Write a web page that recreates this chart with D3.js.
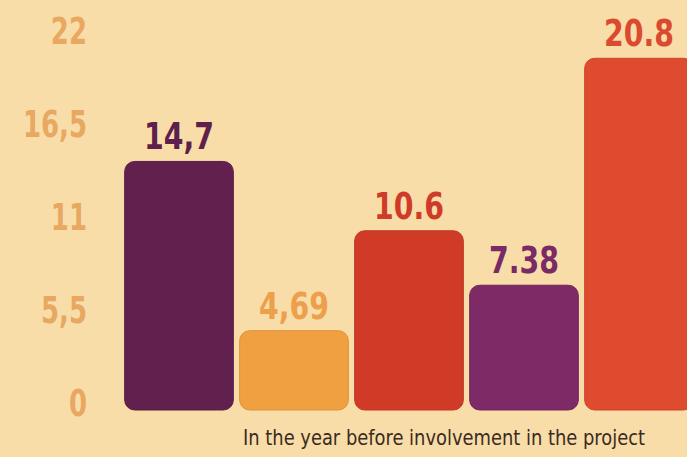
<!DOCTYPE html>
<html>
<head>
<meta charset="utf-8">
<script src="https://cdn.jsdelivr.net/npm/d3@7"></script>
<style>
  html, body { margin: 0; padding: 0; background: #f8dda9; }
  svg { display: block; }
  .tick text { font-family: "DejaVu Sans Condensed", "Liberation Sans Narrow", sans-serif; font-weight: bold; }
</style>
</head>
<body>
<svg id="chart" width="687" height="457"></svg>
<script>
var categories = ['A', 'B', 'C', 'D', 'E'];
var values = [14.7, 4.69, 10.6, 7.38, 20.8];
var valueLabels = ['14,7', '4,69', '10.6', '7.38', '20.8'];
var barColors = ['#62204e', '#f0a040', '#d03b28', '#7e2a66', '#de4b2f'];
var labelColors = ['#5e1f4c', '#eda04c', '#cf3b29', '#7a2a64', '#db4a2e'];
var yTicks = [0, 5.5, 11, 16.5, 22];
var caption = 'In the year before involvement in the project';

// squeeze a text horizontally, the reference font is a narrow one
function condense(sel, k) {
  sel.each(function () {
    var len = this.getComputedTextLength();
    d3.select(this)
      .attr('textLength', len * k)
      .attr('lengthAdjust', 'spacingAndGlyphs');
  });
}

(function drawChart() {
  var svg = d3.select('#chart'),
    width = 687,
    height = 457;

  svg.append('rect')
    .attr('width', width)
    .attr('height', height)
    .attr('fill', '#f8dda9');

  // scales
  var xScale = d3.scaleBand()
    .domain(categories)
    .range([121.5, 696.5])
    .paddingInner(0.055)
    .paddingOuter(0.0275);

  var yScale = d3.scaleLinear()
    .domain([0, 22])
    .range([410, 38]);

  // y axis, labels only
  var yAxis = d3.axisLeft(yScale)
    .tickValues(yTicks)
    .tickSize(0)
    .tickPadding(5)
    .tickFormat(function (d) { return String(d).replace('.', ','); });

  var axisG = svg.append('g')
    .attr('transform', 'translate(92,0)')
    .call(yAxis);
  axisG.select('.domain').remove();
  axisG.selectAll('.tick text')
    .attr('fill', '#e8a862')
    .attr('font-size', 37)
    .attr('dy', 5)
    .call(condense, 0.78);

  // bars
  svg.selectAll('.bar')
    .data(values)
    .enter().append('rect')
    .attr('class', 'bar')
    .attr('x', function (d, i) { return xScale(categories[i]); })
    .attr('width', xScale.bandwidth())
    .attr('y', function (d) { return yScale(d); })
    .attr('height', function (d) { return yScale(0) - yScale(d); })
    .attr('rx', 10)
    .attr('ry', 10)
    .attr('fill', function (d, i) { return barColors[i]; })
    .attr('stroke', function (d, i) { return d3.color(barColors[i]).darker(0.25); })
    .attr('stroke-width', 1);

  // value labels
  svg.selectAll('.value')
    .data(values)
    .enter().append('text')
    .attr('class', 'value')
    .attr('text-anchor', 'middle')
    .attr('font-family', '"DejaVu Sans Condensed", "Liberation Sans Narrow", sans-serif')
    .attr('font-weight', 'bold')
    .attr('font-size', 38)
    .attr('fill', function (d, i) { return labelColors[i]; })
    .attr('x', function (d, i) { return xScale(categories[i]) + xScale.bandwidth() / 2; })
    .attr('y', function (d) { return yScale(d) - 12; })
    .text(function (d, i) { return valueLabels[i]; })
    .call(condense, 0.83);

  // caption
  svg.append('text')
    .attr('x', 243)
    .attr('y', 445)
    .attr('font-family', '"DejaVu Sans Condensed", "Liberation Sans Narrow", sans-serif')
    .attr('font-size', 22)
    .attr('fill', '#3b2b22')
    .attr('textLength', 402)
    .attr('lengthAdjust', 'spacingAndGlyphs')
    .text(caption);
})();
</script>
</body>
</html>
